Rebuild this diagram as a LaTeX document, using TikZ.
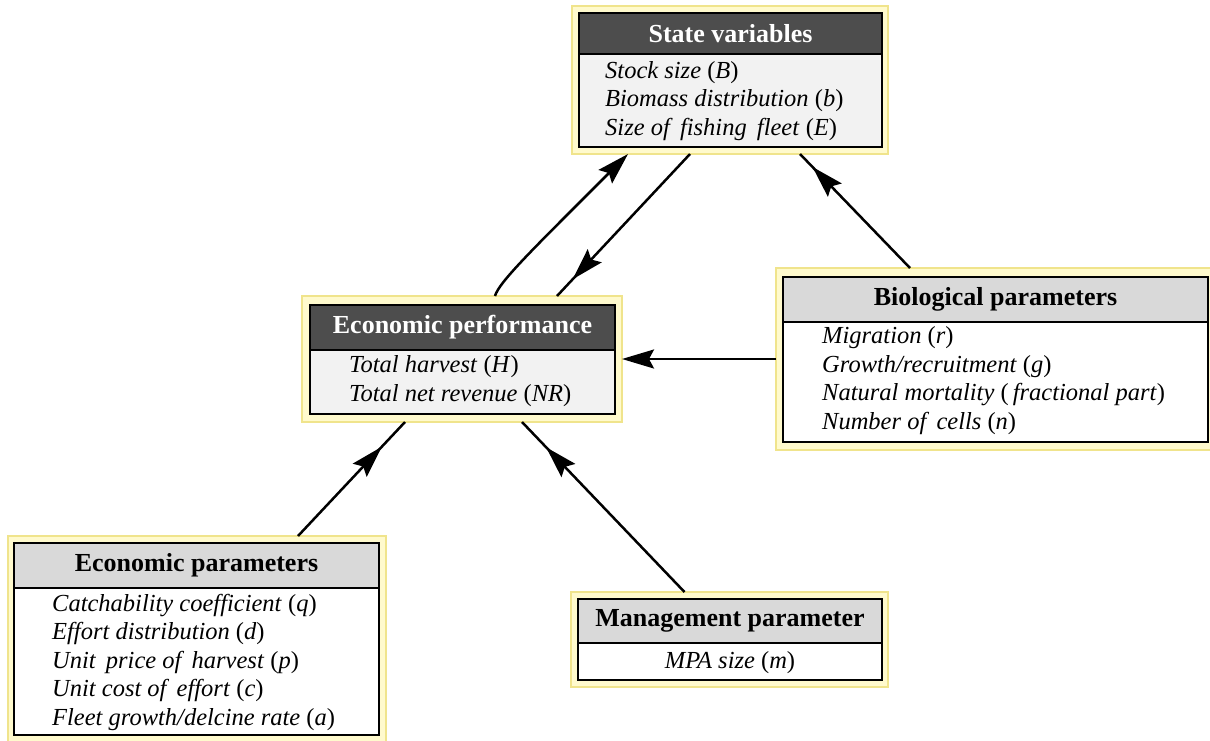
\documentclass[tikz,border=0pt]{standalone}
\usepackage{fontspec}
\setmainfont{Liberation Serif}
\usepackage{tikz}
\usetikzlibrary{positioning,arrows.meta,decorations.markings}
\usepackage{xcolor}

\definecolor{halofill}{RGB}{255,250,205}
\definecolor{haloline}{RGB}{240,228,140}
\definecolor{headgray}{RGB}{77,77,77}
\definecolor{headlite}{RGB}{217,217,217}
\definecolor{bodygray}{RGB}{242,242,242}

\newcommand{\sym}[1]{\textup{(}#1\textup{)}}

\begin{document}
\begin{tikzpicture}[x=1pt, y=-1pt,
    halo/.style={rectangle, draw=haloline, fill=halofill, line width=1.5pt, outer sep=0pt},
    headdark/.style={rectangle, draw=black, line width=2pt, fill=headgray, text=white,
                     outer sep=0pt, anchor=north west,
                     font=\fontsize{26}{30}\selectfont\bfseries},
    headlight/.style={headdark, fill=headlite, text=black},
    bodybox/.style={rectangle, draw=black, line width=2pt, outer sep=0pt, anchor=north west},
    items/.style={inner sep=0pt, align=left, anchor=base west,
                  font=\fontsize{24.5}{28.5}\selectfont\itshape},
    link/.style={line width=2.5pt},
    arrow/.style={link, -{Stealth[length=32pt, width=19pt, inset=5pt]}},
    midarrow/.style={link, postaction=decorate,
        decoration={markings, mark=at position #1 with
            {\arrow{Stealth[length=32pt, width=19pt, inset=5pt]}}}}
]
    \useasboundingbox (0,0) rectangle (1210,740);

    % state variables
    \node[halo, minimum width=316pt, minimum height=148pt] (state) at (730,80) {};
    \node[headdark, minimum width=303pt, minimum height=41pt] (stateh) at (579,13) {State variables};
    \node[bodybox, fill=bodygray, minimum width=303pt, minimum height=93pt] (stateb) at (stateh.south west) {};
    \node[items] (statet) at (605,135) {Stock size \sym{B}\\
        Biomass distribution \sym{b}\\
        Size of\, fishing\, fleet \sym{E}};

    % economic performance
    \node[halo, minimum width=320pt, minimum height=126pt] (ep) at (462,359) {};
    \node[headdark, minimum width=305pt, minimum height=45pt] (eph) at (310,305) {Economic performance};
    \node[bodybox, fill=bodygray, minimum width=305pt, minimum height=64pt] (epb) at (eph.south west) {};
    \node[items] (ept) at (349,401) {Total harvest \sym{H}\\
        Total net revenue \sym{NR}};

    % biological parameters
    \node[halo, minimum width=438pt, minimum height=182pt] (bio) at (995,359) {};
    \node[headlight, minimum width=425pt, minimum height=45pt] (bioh) at (783,277) {Biological parameters};
    \node[bodybox, fill=white, minimum width=425pt, minimum height=120pt] (biob) at (bioh.south west) {};
    \node[items] (biot) at (822,429) {Migration \sym{r}\\
        Growth/recruitment \sym{g}\\
        Natural mortality \sym{\,fractional part}\\
        Number of\, cells \sym{n}};

    % economic parameters
    \node[halo, minimum width=378pt, minimum height=206pt] (epar) at (197,639) {};
    \node[headlight, minimum width=365pt, minimum height=45pt] (eparh) at (14,543) {Economic parameters};
    \node[bodybox, fill=white, minimum width=365pt, minimum height=147pt] (eparb) at (eparh.south west) {};
    \node[items] (epart) at (52,725) {Catchability coefficient \sym{q}\\
        Effort distribution \sym{d}\\
        Unit\, price of\, harvest \sym{p}\\
        Unit cost of\, effort \sym{c}\\
        Fleet growth/delcine rate \sym{a}};

    % management parameter
    \node[halo, minimum width=317pt, minimum height=95pt] (mgmt) at (729.5,639.5) {};
    \node[headlight, minimum width=304pt, minimum height=44pt] (mgmth) at (578,599) {Management parameter};
    \node[bodybox, fill=white, minimum width=304pt, minimum height=37pt] (mgmtb) at (mgmth.south west) {};
    \node[items, anchor=base] (mgmtt) at (730,668) {MPA size \sym{m}};

    % links
    \draw[arrow] ([xshift=33pt]ep.north) .. controls +(4,-14) and +(-95,95) .. ([xshift=-102pt]state.south);
    \draw[midarrow=-23pt] ([xshift=-40pt]state.south) -- ([xshift=95pt]ep.north);
    \draw[midarrow=-18pt] ([xshift=-85pt]bio.north) -- ([xshift=70pt]state.south);
    \draw[arrow] (bio.west) -- (ep.east);
    \draw[midarrow=-34pt] ([xshift=101pt]epar.north) -- ([xshift=-57pt]ep.south);
    \draw[midarrow=-35pt] ([xshift=-45pt]mgmt.north) -- ([xshift=60pt]ep.south);
\end{tikzpicture}
\end{document}
